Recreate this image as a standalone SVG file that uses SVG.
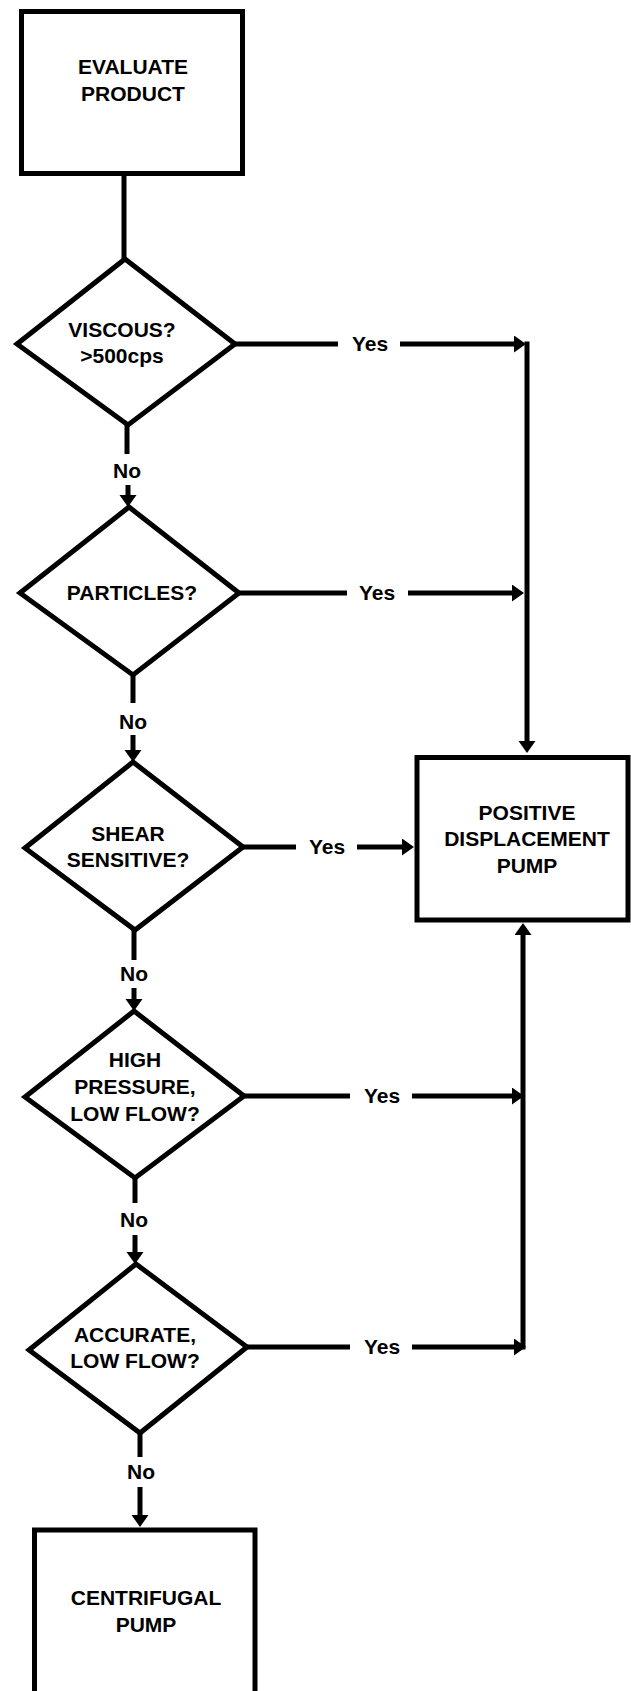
<svg xmlns="http://www.w3.org/2000/svg" width="631" height="1691" viewBox="0 0 631 1691">
<style>
.box{fill:#fff;stroke:#000;stroke-width:5}
.dia{fill:#fff;stroke:#000;stroke-width:5;stroke-linejoin:miter}
.ln{fill:none;stroke:#000;stroke-width:5}
.ar{fill:none;stroke:#000;stroke-width:5;marker-end:url(#ah)}
text{font-family:"Liberation Sans",Arial,sans-serif;font-weight:bold;font-size:21px;fill:#000;text-anchor:middle}
</style>
<defs>
<marker id="ah" markerUnits="userSpaceOnUse" markerWidth="13" markerHeight="18" refX="0" refY="8.5" orient="auto">
<path d="M0,0 L12,8.5 L0,17 z" fill="#000"/>
</marker>
</defs>
<rect width="631" height="1691" fill="#fff"/>
<g id="connectors">
<path class="ln" d="M124,174 V259"/>
<path class="ln" d="M127,425 V454"/>
<path class="ar" d="M128,485 V495"/>
<path class="ln" d="M235,344 H338"/>
<path class="ar" d="M400,344 H514"/>
<path class="ar" d="M527,341.5 V741"/>
<path class="ln" d="M239,593 H347"/>
<path class="ar" d="M408,593 H512"/>
<path class="ln" d="M133,675 V703"/>
<path class="ar" d="M133,735 V750"/>
<path class="ln" d="M243,847 H296"/>
<path class="ar" d="M357,847 H402"/>
<path class="ln" d="M134,930 V960"/>
<path class="ar" d="M134,988 V999"/>
<path class="ln" d="M244,1096 H350"/>
<path class="ar" d="M412,1096 H512"/>
<path class="ln" d="M135,1178 V1203"/>
<path class="ar" d="M135,1235 V1252"/>
<path class="ln" d="M247,1347 H350"/>
<path class="ar" d="M412,1347 H514"/>
<path class="ar" d="M523,1349.5 V935"/>
<path class="ln" d="M140,1433 V1457"/>
<path class="ar" d="M140,1487 V1515"/>
<text x="370" y="351">Yes</text>
<text x="377" y="600">Yes</text>
<text x="327" y="854">Yes</text>
<text x="382" y="1103">Yes</text>
<text x="382" y="1354">Yes</text>
<text x="127" y="478">No</text>
<text x="133" y="729">No</text>
<text x="134" y="981">No</text>
<text x="134" y="1227">No</text>
<text x="141" y="1479">No</text>
</g>
<g id="evaluate">
<rect class="box" x="21.5" y="11.5" width="221" height="162"/>
<text x="133" y="74">EVALUATE</text>
<text x="133" y="101">PRODUCT</text>
</g>
<g id="viscous">
<polygon class="dia" points="125,259 235,344 128,425 17,344"/>
<text x="122" y="337">VISCOUS?</text>
<text x="122" y="363">&gt;500cps</text>
</g>
<g id="particles">
<polygon class="dia" points="129,507 239,593 133,675 20,593"/>
<text x="132" y="600">PARTICLES?</text>
</g>
<g id="shear">
<polygon class="dia" points="133,762 243,847 135,930 25,848"/>
<text x="128" y="841">SHEAR</text>
<text x="128" y="867">SENSITIVE?</text>
</g>
<g id="highpressure">
<polygon class="dia" points="134,1011 244,1096 135,1178 25,1097"/>
<text x="135" y="1067">HIGH</text>
<text x="135" y="1094">PRESSURE,</text>
<text x="135" y="1121">LOW FLOW?</text>
</g>
<g id="accurate">
<polygon class="dia" points="136,1264 247,1347 140,1433 29,1350"/>
<text x="135" y="1342">ACCURATE,</text>
<text x="135" y="1368">LOW FLOW?</text>
</g>
<g id="pdpump">
<rect class="box" x="417" y="757.5" width="211" height="162.5"/>
<text x="527" y="820">POSITIVE</text>
<text x="527" y="846">DISPLACEMENT</text>
<text x="527" y="873">PUMP</text>
</g>
<g id="centrifugal">
<rect class="box" x="34.5" y="1530" width="220.5" height="175"/>
<text x="146" y="1605">CENTRIFUGAL</text>
<text x="146" y="1632">PUMP</text>
</g>
</svg>
